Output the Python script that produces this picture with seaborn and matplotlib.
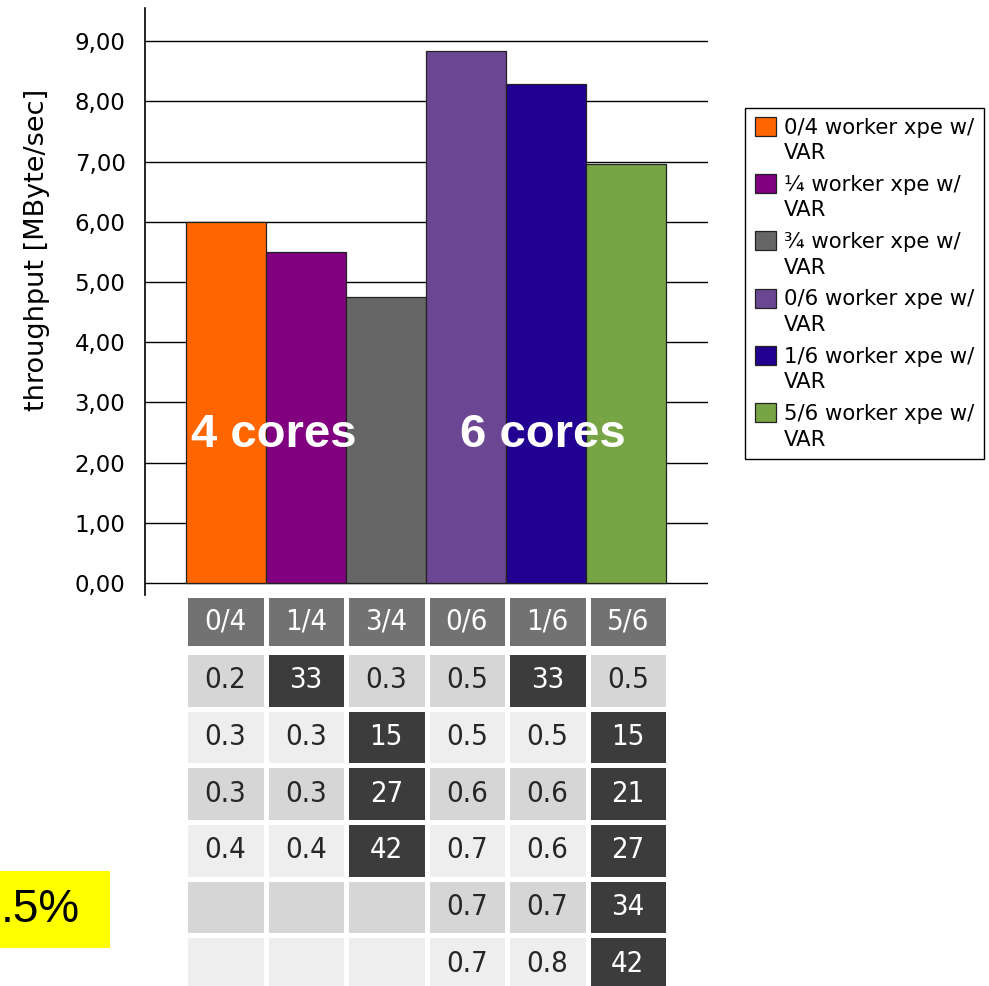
import numpy as np
import pandas as pd
import matplotlib
matplotlib.use("Agg")
import matplotlib.pyplot as plt
from matplotlib.colors import ListedColormap
from matplotlib.patches import Rectangle, Patch
from matplotlib.legend_handler import HandlerPatch
import seaborn as sns

# --- data -------------------------------------------------------------
configs = ["0/4", "1/4", "3/4", "0/6", "1/6", "5/6"]
throughput = [6.00, 5.50, 4.75, 8.84, 8.29, 6.96]
legend_labels = [
    "0/4 worker xpe w/\nVAR",
    "\u00bc worker xpe w/\nVAR",
    "\u00be worker xpe w/\nVAR",
    "0/6 worker xpe w/\nVAR",
    "1/6 worker xpe w/\nVAR",
    "5/6 worker xpe w/\nVAR",
]
bar_colors = ["#FF6600", "#800080", "#666666", "#6B4793", "#220091", "#77A445"]
y_ticks = [0, 1, 2, 3, 4, 5, 6, 7, 8, 9]

# per-worker load table (percent), one list per configuration column
load_04 = [0.2, 0.3, 0.3, 0.4, None, None]
load_14 = [33, 0.3, 0.3, 0.4, None, None]
load_34 = [0.3, 15, 27, 42, None, None]
load_06 = [0.5, 0.5, 0.6, 0.7, 0.7, 0.7]
load_16 = [33, 0.5, 0.6, 0.6, 0.7, 0.8]
load_56 = [0.5, 15, 21, 27, 34, 42]

# --- figure -----------------------------------------------------------
W, H = 989, 986
fig = plt.figure(figsize=(W / 100, H / 100), dpi=100)
sns.set_style("white")
plt.rcParams["font.family"] = ["DejaVu Sans"]
plt.rcParams["text.color"] = "black"

def fx(px):
    return px / W

def fy(py):
    return 1 - py / H

ax = fig.add_axes([fx(145), fy(595), fx(708) - fx(145), (595 - 8) / H])

df = pd.DataFrame({"config": configs, "throughput": throughput, "label": legend_labels})
sns.barplot(data=df, x="config", y="throughput", hue="label",
            palette=bar_colors, saturation=1, dodge=False, width=1.0,
            edgecolor="#222222", linewidth=0.9, legend=False, ax=ax, zorder=3)

ax.set_xlim(-1.0125, 6.025)
ax.set_ylim(-0.2, 9.55)
ax.set_yticks(y_ticks)
ax.set_yticklabels([f"{v:.2f}".replace(".", ",") for v in y_ticks],
                   fontsize=16.5, color="black")
ax.set_xticks([])
ax.set_xlabel("")
ax.set_ylabel("throughput [MByte/sec]", fontsize=19.5, color="black")
ax.yaxis.set_label_coords((50 - 145) / 563, (595 - 250) / 587)
ax.yaxis.grid(True, color="black", linewidth=1.0)
ax.set_axisbelow(True)
ax.tick_params(axis="y", direction="out", length=8, width=1, color="black", pad=6)
for s in ["top", "right", "bottom"]:
    ax.spines[s].set_visible(False)
ax.spines["left"].set_color("black")
ax.spines["left"].set_linewidth(1.2)

ax.text(0.6, 2.46, "4 cores", color="white", fontsize=34, fontweight="bold",
        family="Liberation Sans", ha="center", va="center", zorder=5)
ax.text(3.96, 2.46, "6 cores", color="white", fontsize=34, fontweight="bold",
        family="Liberation Sans", ha="center", va="center", zorder=5)


def square_on_first_line(legend, orig_handle, xdescent, ydescent, width, height, fontsize):
    # keep the colour square level with the first line of a two-line label
    return Rectangle((-xdescent, -ydescent + 0.7 * fontsize), width, height)


handles = [Patch(facecolor=c, edgecolor="#222222", linewidth=0.9) for c in bar_colors]
leg = fig.legend(handles, legend_labels, loc="upper left",
                 bbox_to_anchor=(fx(745), fy(108)), bbox_transform=fig.transFigure,
                 fontsize=15.3, frameon=True, fancybox=False, edgecolor="black",
                 framealpha=1, borderaxespad=0, handlelength=1.0, handleheight=1.0,
                 handletextpad=0.4, labelspacing=0.55, borderpad=0.45,
                 handler_map={Patch: HandlerPatch(patch_func=square_on_first_line)})
for t in leg.get_texts():
    t.set_linespacing(1.35)

# --- load table -------------------------------------------------------
columns = [load_04, load_14, load_34, load_06, load_16, load_56]
n_rows = len(load_04)
cat = np.zeros((n_rows, len(columns)))
txt = np.empty((n_rows, len(columns)), dtype=object)
for j, col in enumerate(columns):
    for i, v in enumerate(col):
        base = 0 if i % 2 == 0 else 1
        if v is None:
            cat[i, j] = base
            txt[i, j] = ""
        else:
            cat[i, j] = 2 if v >= 10 else base
            txt[i, j] = f"{v:g}"

cell_font = {"fontsize": 21, "fontstretch": "condensed"}

ax_head = fig.add_axes([fx(185), fy(648), fx(668) - fx(185), (648 - 595) / H])
sns.heatmap(np.zeros((1, len(configs))), ax=ax_head, cmap=ListedColormap(["#727272"]),
            cbar=False, annot=np.array([configs]), fmt="", annot_kws=cell_font,
            linewidths=3.5, linecolor="white", xticklabels=False, yticklabels=False)

ax_body = fig.add_axes([fx(185), fy(992), fx(668) - fx(185), (992 - 652) / H])
sns.heatmap(cat, ax=ax_body, cmap=ListedColormap(["#d6d6d6", "#eeeeee", "#3c3c3c"]),
            vmin=-0.5, vmax=2.5, cbar=False, annot=txt, fmt="", annot_kws=cell_font,
            linewidths=3.5, linecolor="white", xticklabels=False, yticklabels=False)

# --- highlight box ----------------------------------------------------
fig.patches.append(Rectangle((0, fy(948)), fx(110), (948 - 871) / H,
                             facecolor="#FFFF00", edgecolor="none",
                             transform=fig.transFigure, zorder=1))
fig.text(fx(1), fy(910), ".5%", fontsize=33, family="Liberation Sans",
         ha="left", va="center", color="black", zorder=2)

fig.savefig("out.png", dpi=100)
